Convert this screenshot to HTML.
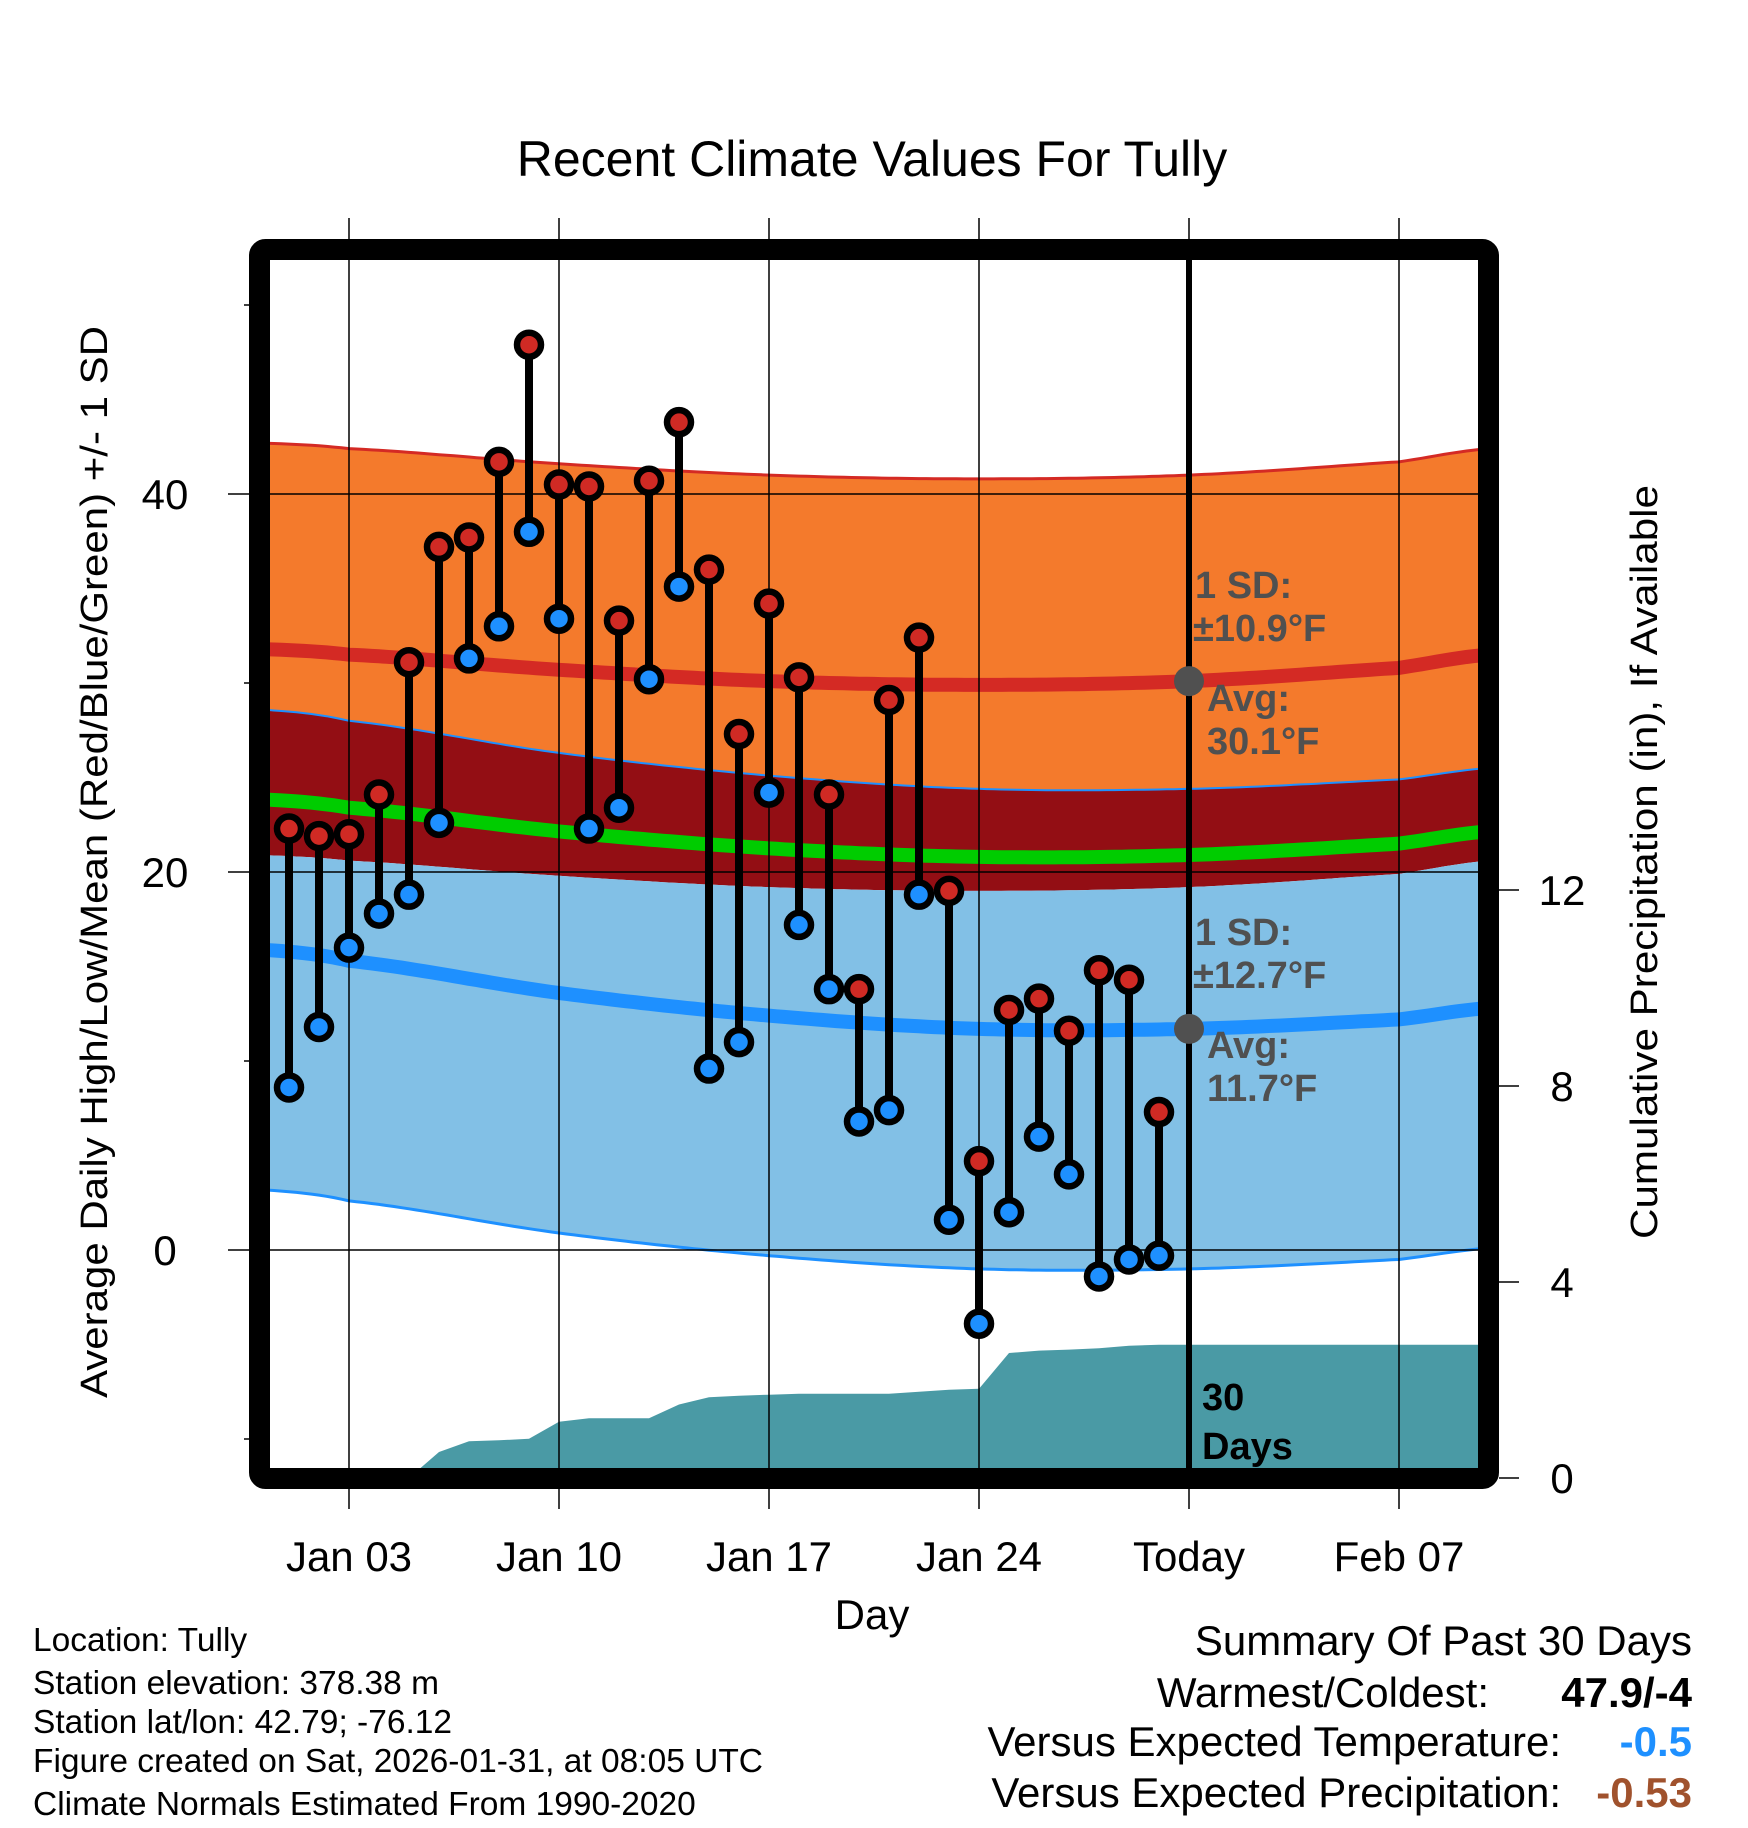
<!DOCTYPE html>
<html><head><meta charset="utf-8"><style>
html,body{margin:0;padding:0;background:#fff;}
svg{display:block;font-family:"Liberation Sans",Arial,sans-serif;}
</style></head><body>
<svg id="chart" width="1748" height="1828" viewBox="0 0 1748 1828" xmlns="http://www.w3.org/2000/svg">
<defs><clipPath id="plotclip"><rect x="270" y="260" width="1208" height="1208"/></clipPath></defs>
<text x="872" y="176" font-size="50" text-anchor="middle">Recent Climate Values For Tully</text>
<g id="plot" clip-path="url(#plotclip)"></g>
<g id="grid"></g>
<g id="marks"></g>
<g id="axes"></g>
<text transform="translate(107,862) rotate(-90)" font-size="38" text-anchor="middle" textLength="1072" lengthAdjust="spacingAndGlyphs">Average Daily High/Low/Mean (Red/Blue/Green) +/- 1 SD</text>
<text transform="translate(1657,862) rotate(-90)" font-size="38" text-anchor="middle" textLength="754" lengthAdjust="spacingAndGlyphs">Cumulative Precipitation (in), If Available</text>
<text x="872" y="1629" font-size="42" text-anchor="middle">Day</text>
<g font-size="33.5">
<text x="33" y="1651">Location: Tully</text>
<text x="33" y="1694">Station elevation: 378.38 m</text>
<text x="33" y="1733">Station lat/lon: 42.79; -76.12</text>
<text x="33" y="1772">Figure created on Sat, 2026-01-31, at 08:05 UTC</text>
<text x="33" y="1815">Climate Normals Estimated From 1990-2020</text>
</g>
<g font-size="42">
<text x="1692" y="1655" text-anchor="end">Summary Of Past 30 Days</text>
<text x="1489" y="1707" text-anchor="end">Warmest/Coldest:</text>
<text x="1692" y="1707" text-anchor="end" font-weight="bold">47.9/-4</text>
<text x="1561" y="1756" text-anchor="end">Versus Expected Temperature:</text>
<text x="1692" y="1756" text-anchor="end" font-weight="bold" fill="#1e90ff">-0.5</text>
<text x="1561" y="1807" text-anchor="end">Versus Expected Precipitation:</text>
<text x="1692" y="1807" text-anchor="end" font-weight="bold" fill="#a0522d">-0.53</text>
</g>
</svg>
<script>
// ---- data ----
const days = [1,2,3,4,5,6,7,8,9,10,11,12,13,14,15,16,17,18,19,20,21,22,23,24,25,26,27,28,29,30];
const highs = [22.3,21.9,22.0,24.1,31.1,37.2,37.7,41.7,47.9,40.5,40.4,33.3,40.7,43.8,36.0,27.3,34.2,30.3,24.1,13.8,29.1,32.4,19.0,4.7,12.7,13.3,11.6,14.8,14.3,7.3];
const lows = [8.6,11.8,16.0,17.8,18.8,22.6,31.3,33.0,38.0,33.4,22.3,23.4,30.2,35.1,9.6,11.0,24.2,17.2,13.8,6.8,7.4,18.8,1.6,-3.9,2.0,6.0,4.0,-1.4,-0.5,-0.3];
const precip = [0,0,0,0,0,0.53,0.75,0.77,0.8,1.15,1.22,1.22,1.22,1.5,1.65,1.68,1.7,1.72,1.72,1.72,1.72,1.76,1.8,1.82,2.55,2.6,2.62,2.65,2.7,2.72];
const normalDays = [0,3,10,17,24,31,38,41];
const normalHigh = [31.8,31.5,30.7,30.1,29.9,30.1,30.8,31.5];
const normalLow = [15.9,15.3,13.6,12.4,11.7,11.7,12.2,12.8];
const sdHigh = 10.9;
const sdLow = 12.7;
const xTickDays = [3,10,17,24,31,38];
const xTickLabels = ["Jan 03","Jan 10","Jan 17","Jan 24","Today","Feb 07"];
const yTicks = [0,20,40];
const yMinor = [-10,10,30,50];
const pTicks = [0,4,8,12];
const todayDay = 31;

// ---- scales ----
const NS = "http://www.w3.org/2000/svg";
const X = d => 349 + (d - 3) * 30;
const Y = v => 1250 - v * 18.9;
const YP = p => 1478 - p * 49;
const L = 270, R = 1478, T = 260, B = 1468;
function mk(tag, attrs, parent){ const e=document.createElementNS(NS,tag); for(const k in attrs) e.setAttribute(k,attrs[k]); parent.appendChild(e); return e; }
function interp(xs, ys, x){
  let i=0; while(i<xs.length-2 && x>xs[i+1]) i++;
  const i0=Math.max(0,i-1), i3=Math.min(xs.length-1,i+2);
  const t=(x-xs[i])/(xs[i+1]-xs[i]);
  const p0=ys[i0],p1=ys[i],p2=ys[i+1],p3=ys[i3];
  return 0.5*((2*p1)+(-p0+p2)*t+(2*p0-5*p1+4*p2-p3)*t*t+(-p0+3*p1-3*p2+p3)*t*t*t);
}
const grid=document.getElementById('grid'), plot=document.getElementById('plot'), marks=document.getElementById('marks'), axes=document.getElementById('axes');
const sd=[]; for(let d=0; d<=41.01; d+=0.25) sd.push(d);
const curve = f => sd.map(d=>[X(d), f(d)]);
const hiF = d=>interp(normalDays,normalHigh,d), loF = d=>interp(normalDays,normalLow,d);
function band(fTop, fBot, fill, name){
  const top=curve(d=>Y(fTop(d))), bot=curve(d=>Y(fBot(d))).reverse();
  const p=mk('path',{d:'M'+top.concat(bot).map(p=>p[0].toFixed(1)+','+p[1].toFixed(1)).join('L')+'Z',fill:fill},plot);
  
  
}
function line(f, stroke, w, name){
  const pts=curve(d=>Y(f(d)));
  const p=mk('path',{d:'M'+pts.map(p=>p[0].toFixed(1)+','+p[1].toFixed(1)).join('L'),fill:'none',stroke:stroke,'stroke-width':w},plot);
  
  
}
band(d=>hiF(d)+sdHigh, d=>loF(d)+sdLow, '#f47a2c', 'high-sd-band');
band(d=>loF(d)+sdLow, d=>hiF(d)-sdHigh, '#930e14', 'overlap-band');
band(d=>hiF(d)-sdHigh, d=>loF(d)-sdLow, '#82c0e6', 'low-sd-band');
line(d=>hiF(d)+sdHigh, '#d42a24', 3, 'high-upper-sd-line');
line(d=>loF(d)+sdLow, '#1e90ff', 2, 'low-upper-sd-line');
line(d=>loF(d)-sdLow, '#1e90ff', 3, 'low-lower-sd-line');
line(hiF, '#d42a24', 14, 'normal-high-line');
line(loF, '#1e90ff', 14, 'normal-low-line');
line(d=>(hiF(d)+loF(d))/2, '#00cc00', 14, 'normal-mean-line');
// precipitation
{
  const pts=days.map((d,i)=>[X(d),YP(precip[i])]);
  pts.push([R+5, YP(precip[precip.length-1])]);
  const dstr='M'+X(days[0])+','+(B+5)+'L'+pts.map(p=>p[0].toFixed(1)+','+p[1].toFixed(1)).join('L')+'L'+(R+5)+','+(B+5)+'Z';
  const p=mk('path',{d:dstr,fill:'#4a9aa5'},plot);
  
  
}
// grid
xTickDays.forEach(d=>{
  const g=mk('line',{x1:X(d),x2:X(d),y1:218,y2:1509,stroke:'#000','stroke-width':1.5},grid);
  
  
});
yTicks.forEach(v=>{
  const g=mk('line',{x1:228,x2:R,y1:Y(v),y2:Y(v),stroke:'#000','stroke-width':1.5},grid);
  
  
});
// today line
{
  const t=mk('line',{x1:X(todayDay),x2:X(todayDay),y1:T,y2:B,stroke:'#000','stroke-width':6},marks);
  
  
}
// stems and markers
days.forEach((d,i)=>{
  const s=mk('line',{x1:X(d),x2:X(d),y1:Y(highs[i]),y2:Y(lows[i]),stroke:'#000','stroke-width':8},marks);
  
  
});
days.forEach((d,i)=>{
  const h=mk('circle',{cx:X(d),cy:Y(highs[i]),r:12,fill:'#d02a24',stroke:'#000','stroke-width':6.5},marks);
  
  
  const l=mk('circle',{cx:X(d),cy:Y(lows[i]),r:12,fill:'#1e90ff',stroke:'#000','stroke-width':6.5},marks);
  
  
});
// avg dots at today
[[hiF(todayDay),'today-normal-high-dot'],[loF(todayDay),'today-normal-low-dot']].forEach(a=>{
  const c=mk('circle',{cx:X(todayDay),cy:Y(a[0]),r:15,fill:'#505050'},marks);
  
  
});
// annotations
const ann=[["1 SD:",1195,598,'#505050'],["±10.9°F",1193,641,'#505050'],["Avg:",1207,711,'#505050'],["30.1°F",1207,754,'#505050'],
["1 SD:",1195,945,'#505050'],["±12.7°F",1193,988,'#505050'],["Avg:",1207,1058,'#505050'],["11.7°F",1207,1101,'#505050'],
["30",1202,1410,'#000'],["Days",1202,1459,'#000']];
ann.forEach(a=>{
  const t=mk('text',{x:a[1],y:a[2],'font-size':38,'font-weight':'bold',fill:a[3]},marks);
  t.textContent=a[0];
  
  
});
// frame
{
  const f=mk('rect',{x:259.5,y:249.5,width:1229,height:1229,rx:6,fill:'none',stroke:'#000','stroke-width':21},axes);
  
  
}
yTicks.forEach(v=>{
  const t=mk('text',{x:165,y:Y(v)+15,'font-size':42,'text-anchor':'middle'},axes);
  t.textContent=v;
  
  
});
yMinor.forEach(v=>{
  const t=mk('line',{x1:244,x2:250,y1:Y(v),y2:Y(v),stroke:'#000','stroke-width':1.5},axes);
  
  
});
pTicks.forEach(p=>{
  const t=mk('line',{x1:1499,x2:1519,y1:YP(p),y2:YP(p),stroke:'#000','stroke-width':1.5},axes);
  
  
  const l=mk('text',{x:1562,y:YP(p)+15,'font-size':42,'text-anchor':'middle'},axes);
  l.textContent=p;
  
  
});
xTickDays.forEach((d,i)=>{
  const t=mk('text',{x:X(d),y:1571,'font-size':42,'text-anchor':'middle'},axes);
  t.textContent=xTickLabels[i];
  
  
});
</script>
</body></html>
